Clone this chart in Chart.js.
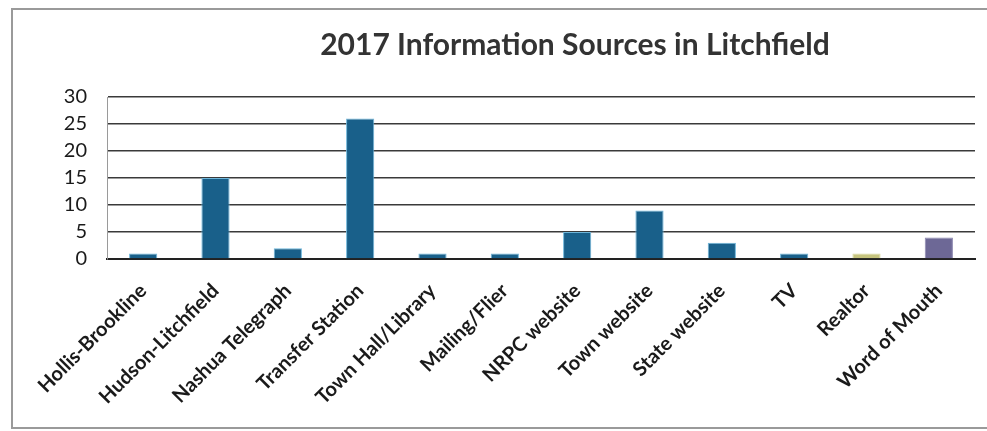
<!DOCTYPE html>
<html lang="en">
<head>
  <meta charset="UTF-8" />
  <title>2017 Information Sources in Litchfield</title>
  <script src="https://cdn.jsdelivr.net/npm/chart.js"></script>
  <style>
    body {
      margin: 0;
      background: #ffffff;
    }
    #wrap {
      position: relative;
      width: 987px;
      height: 431px;
    }
  </style>
</head>
<body>
  <div id="wrap">
    <canvas id="sourcesChart" width="987" height="431"></canvas>
  </div>

  <script>
    const titleText = '2017 Information Sources in Litchfield';

    const sources = [
      'Hollis-Brookline', 'Hudson-Litchfield', 'Nashua Telegraph', 'Transfer Station',
      'Town Hall/Library', 'Mailing/Flier', 'NRPC website', 'Town website',
      'State website', 'TV', 'Realtor', 'Word of Mouth'
    ];
    const responses = [1, 15, 2, 26, 1, 1, 5, 9, 3, 1, 1, 4];
    const yTicks = [0, 5, 10, 15, 20, 25, 30];

    const barColors = sources.map(s => {
      if (s === 'Realtor') return '#c6c47e';
      if (s === 'Word of Mouth') return '#6d6896';
      return '#19608a';
    });
    const edgeColors = sources.map(s => {
      if (s === 'Realtor') return '#dcdca0';
      if (s === 'Word of Mouth') return '#8c88b0';
      return '#6fb6da';
    });

    // outer frame and the title, painted straight onto the canvas
    const framePlugin = {
      id: 'frame',
      beforeDraw(chart) {
        const ctx = chart.ctx;
        ctx.save();
        ctx.fillStyle = '#ffffff';
        ctx.fillRect(0, 0, chart.width, chart.height);
        ctx.strokeStyle = '#9a9a9a';
        ctx.lineWidth = 2;
        ctx.beginPath();
        ctx.moveTo(chart.width, 9);
        ctx.lineTo(12, 9);
        ctx.lineTo(12, 428);
        ctx.lineTo(chart.width, 428);
        ctx.stroke();
        ctx.restore();
      },
      afterDraw(chart) {
        const ctx = chart.ctx;
        ctx.save();
        ctx.font = 'bold 30px Lato, "Open Sans", sans-serif';
        ctx.fillStyle = '#333333';
        ctx.textAlign = 'center';
        ctx.textBaseline = 'middle';
        ctx.fillText(titleText, 575, 45);
        ctx.restore();
      }
    };

    new Chart(document.getElementById('sourcesChart').getContext('2d'), {
      type: 'bar',
      data: {
        labels: sources,
        datasets: [{
          label: 'Responses',
          data: responses,
          backgroundColor: barColors,
          borderColor: edgeColors,
          borderWidth: 1,
          barPercentage: 0.39,
          categoryPercentage: 1
        }]
      },
      options: {
        responsive: false,
        animation: false,
        layout: {
          padding: { left: 12, right: 12, top: 97, bottom: 0 }
        },
        plugins: {
          legend: { display: false },
          title: { display: false },
          tooltip: { enabled: false }
        },
        scales: {
          x: {
            grid: { display: false, drawTicks: false },
            border: { display: true, color: '#222222', width: 2 },
            ticks: {
              color: '#1a1a1a',
              font: { family: 'Lato, "Open Sans", sans-serif', size: 20, weight: 'bold' },
              minRotation: 45,
              maxRotation: 45,
              padding: 20
            },
            afterFit(scale) { scale.height = 172; }
          },
          y: {
            min: 0,
            max: 30,
            afterBuildTicks(scale) {
              scale.ticks = yTicks.map(v => ({ value: v }));
            },
            grid: { color: '#3a3a3a', lineWidth: 1.6, drawTicks: false },
            border: { display: true, color: '#9a9a9a', width: 1 },
            ticks: {
              color: '#1a1a1a',
              font: { family: 'Lato, "Open Sans", sans-serif', size: 20 },
              padding: 20
            },
            afterFit(scale) { scale.width = 95; }
          }
        }
      },
      plugins: [framePlugin]
    });
  </script>
</body>
</html>
